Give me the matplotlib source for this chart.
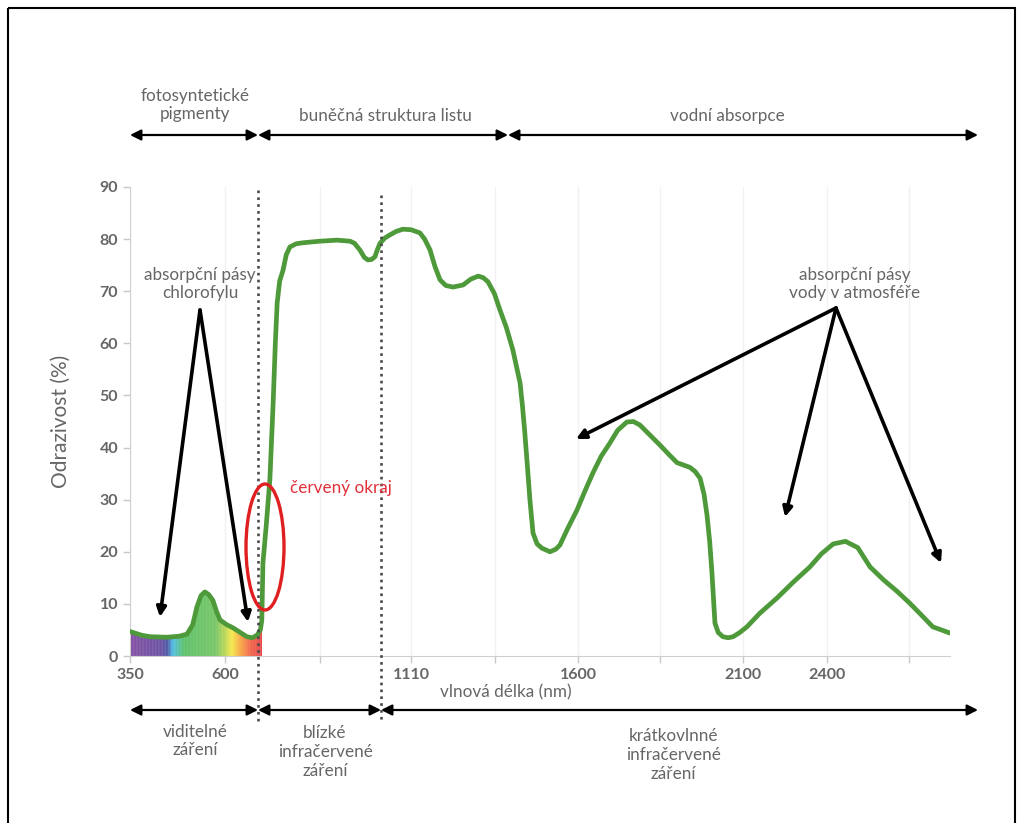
import numpy as np
import matplotlib.pyplot as plt
from matplotlib.colors import LinearSegmentedColormap
from matplotlib.patches import Ellipse, Rectangle
from matplotlib.transforms import Affine2D, blended_transform_factory

# reflectance curve of green vegetation
wavelength = [350, 380, 403, 447, 480, 500, 515, 526, 537, 547, 557, 568, 578, 587, 605,
              622, 640, 660, 675, 688, 697, 701, 704, 713, 723, 732, 738, 743, 750, 759,
              768, 778, 795, 814, 860, 907, 943, 955, 970, 982, 992, 1002, 1011, 1018,
              1025, 1038, 1052, 1070, 1088, 1110, 1136, 1150, 1166, 1180, 1195, 1212,
              1233, 1263, 1285, 1307, 1322, 1336, 1355, 1371, 1390, 1409, 1430, 1437,
              1444, 1452, 1459, 1468, 1480, 1494, 1518, 1535, 1547, 1570, 1597, 1620,
              1645, 1670, 1697, 1720, 1748, 1768, 1788, 1818, 1848, 1875, 1900, 1939,
              1955, 1970, 1982, 1991, 1999, 2006, 2015, 2025, 2039, 2055, 2070, 2090,
              2114, 2160, 2221, 2280, 2339, 2380, 2405, 2415, 2425, 2435, 2446, 2457,
              2467, 2477, 2486, 2500]
reflectance = [4.7, 4.0, 3.7, 3.6, 3.8, 4.2, 6.0, 9.4, 11.6, 12.3, 11.8, 10.7, 8.5, 6.9, 6.0,
               5.4, 4.6, 3.7, 3.5, 4.0, 5.0, 6.9, 17.8, 25.0, 33.8, 48.5, 60.0, 67.7, 72.0, 74.0,
               77.0, 78.5, 79.1, 79.3, 79.6, 79.8, 79.6, 79.2, 77.9, 76.5, 76.0, 76.1, 76.6, 78.0,
               79.2, 80.2, 80.8, 81.5, 81.9, 81.8, 81.2, 80.0, 77.9, 74.8, 72.2, 71.1,
               70.8, 71.2, 72.3, 72.9, 72.6, 71.8, 69.5, 66.4, 63.0, 58.7, 52.4, 48.0,
               42.8, 36.0, 29.9, 23.6, 21.5, 20.7, 20.0, 20.5, 21.3, 24.5, 28.0, 31.5,
               35.1, 38.3, 40.9, 43.3, 44.9, 45.0, 44.3, 42.4, 40.5, 38.7, 37.1, 36.2,
               35.4, 34.1, 31.0, 27.0, 22.0, 15.9, 6.3, 4.5, 3.7, 3.5, 3.7, 4.5,
               5.6, 8.2, 11.1, 14.2, 17.1, 19.6, 21.5, 22.0, 20.8, 17.1, 14.6, 12.4,
               10.2, 7.8, 5.6, 4.4]

# the wavelength axis of the original is not linear
axis_nm = [350, 600, 1110, 1600, 2100, 2400, 2500]
axis_pos = [0, 95, 281, 448, 613, 697, 820]
tick_labels = [350, 600, 1110, 1600, 2100, 2400]
minor_ticks = [860, 1356, 1848, 2467]
region_edges = [690, 1028]

# visible spectrum under the curve
spectrum_nm = [350, 429, 447, 460, 490, 574, 600, 617, 641, 668, 700]
spectrum_colors = ['#6a2d91', '#4b2e8f', '#2b3a95', '#2ab0e0', '#3cb54a', '#5cba47',
                   '#b5d334', '#f4e526', '#f7941d', '#ee4523', '#e31e24']

gray = '#666666'
green = '#4e9a3a'
plt.rcParams['font.family'] = ['Lato', 'DejaVu Sans']

fig = plt.figure(figsize=(10.24, 8.23), dpi=100)
ax = fig.add_axes([130/1024, 1 - 656/823, 820/1024, 469/823])
pix = Affine2D().scale(1/1024, -1/823).translate(0, 1) + fig.transFigure

fwd = lambda x: np.interp(x, axis_nm, axis_pos)
inv = lambda x: np.interp(x, axis_pos, axis_nm)
ax.set_xscale('function', functions=(fwd, inv))
ax.set_xlim(350, 2500)
ax.set_ylim(0, 90)

stops = [(w - 350) / 350 for w in spectrum_nm]
cmap = LinearSegmentedColormap.from_list('vis', list(zip(stops, spectrum_colors)))
for w in np.arange(350, 700, 2):
    seg = np.array([w, w + 2])
    ax.fill_between(seg, 0, np.interp(seg, wavelength, reflectance),
                    color=cmap((w - 350) / 350), lw=0, zorder=2)

ax.plot(wavelength, reflectance, color=green, lw=3.4, solid_joinstyle='round',
        solid_capstyle='round', zorder=3)

ax.set_xticks(tick_labels)
ax.set_xticklabels([str(t) for t in tick_labels])
ax.set_xticks(minor_ticks, minor=True)
ax.set_yticks(range(0, 91, 10))
ax.tick_params(axis='both', which='both', colors='#c8c8c8', labelcolor=gray,
               labelsize=11.5, length=5, width=1)
for lab in ax.get_xticklabels() + ax.get_yticklabels():
    lab.set_fontweight('bold')
ax.grid(axis='x', which='both', color='#f1f1f1', lw=1)
for s in ['top', 'right']:
    ax.spines[s].set_visible(False)
for s in ['left', 'bottom']:
    ax.spines[s].set_color('#cfcfcf')
ax.set_ylabel('Odrazivost (%)', color=gray, fontsize=15)
ax.yaxis.set_label_coords(-0.072, 0.5)

# dotted region borders, reaching down to the lower arrows
vt = blended_transform_factory(ax.transData, pix)
for x in region_edges:
    top = 190 if x < 1000 else 195
    ax.plot([x, x], [top, 722], transform=vt, color='#4a4a4a', lw=1.9,
            ls=(0, (1, 1.6)), clip_on=False, zorder=4)

# region arrows above and below
def span(x0, x1, y):
    ax.annotate('', xy=(x1, y), xytext=(x0, y), xycoords=pix, textcoords=pix,
                arrowprops=dict(arrowstyle='<|-|>', color='black', lw=1.6,
                                mutation_scale=16, shrinkA=0, shrinkB=0))

for x0, x1 in [(130, 258), (258, 508), (508, 978)]:
    span(x0, x1, 135)
for x0, x1 in [(130, 258), (258, 381), (381, 978)]:
    span(x0, x1, 710)

txt = dict(transform=pix, color=gray, fontsize=12.3, ha='center', va='center',
           linespacing=1.2)
fig.text(195, 105, 'fotosyntetické\npigmenty', **txt)
fig.text(385, 116, 'buněčná struktura listu', **txt)
fig.text(727, 116, 'vodní absorpce', **txt)
fig.text(195, 741, 'viditelné\nzáření', **txt)
fig.text(325, 752, 'blízké\ninfračervené\nzáření', **txt)
fig.text(673, 755, 'krátkovlnné\ninfračervené\nzáření', **txt)
fig.text(506, 692, 'vlnová délka (nm)', **txt)
fig.text(200, 284, 'absorpční pásy\nchlorofylu', **txt)
fig.text(855, 284, 'absorpční pásy\nvody v atmosféře', **txt)
fig.text(290, 488, 'červený okraj', transform=pix, color='#e0303a', fontsize=12.3,
         ha='left', va='center')

# pointer arrows
def pointer(x0, y0, x1, y1):
    ax.annotate('', xy=(x1, y1), xytext=(x0, y0), xycoords=pix, textcoords=pix,
                arrowprops=dict(arrowstyle='-|>', color='black', lw=2.6,
                                mutation_scale=14, shrinkA=0, shrinkB=0))

pointer(200, 310, 160, 617)
pointer(200, 310, 248, 622)
pointer(836, 308, 576, 439)
pointer(836, 308, 785, 517)
pointer(836, 308, 941, 563)

fig.add_artist(Ellipse((265, 547), 38, 126, transform=pix, fill=False,
                       edgecolor='#e02020', lw=2.4))
fig.add_artist(Rectangle((8, 8), 1007, 830, transform=pix, fill=False,
                         edgecolor='black', lw=1.5))

fig.savefig('out.png', dpi=100, facecolor='white')
